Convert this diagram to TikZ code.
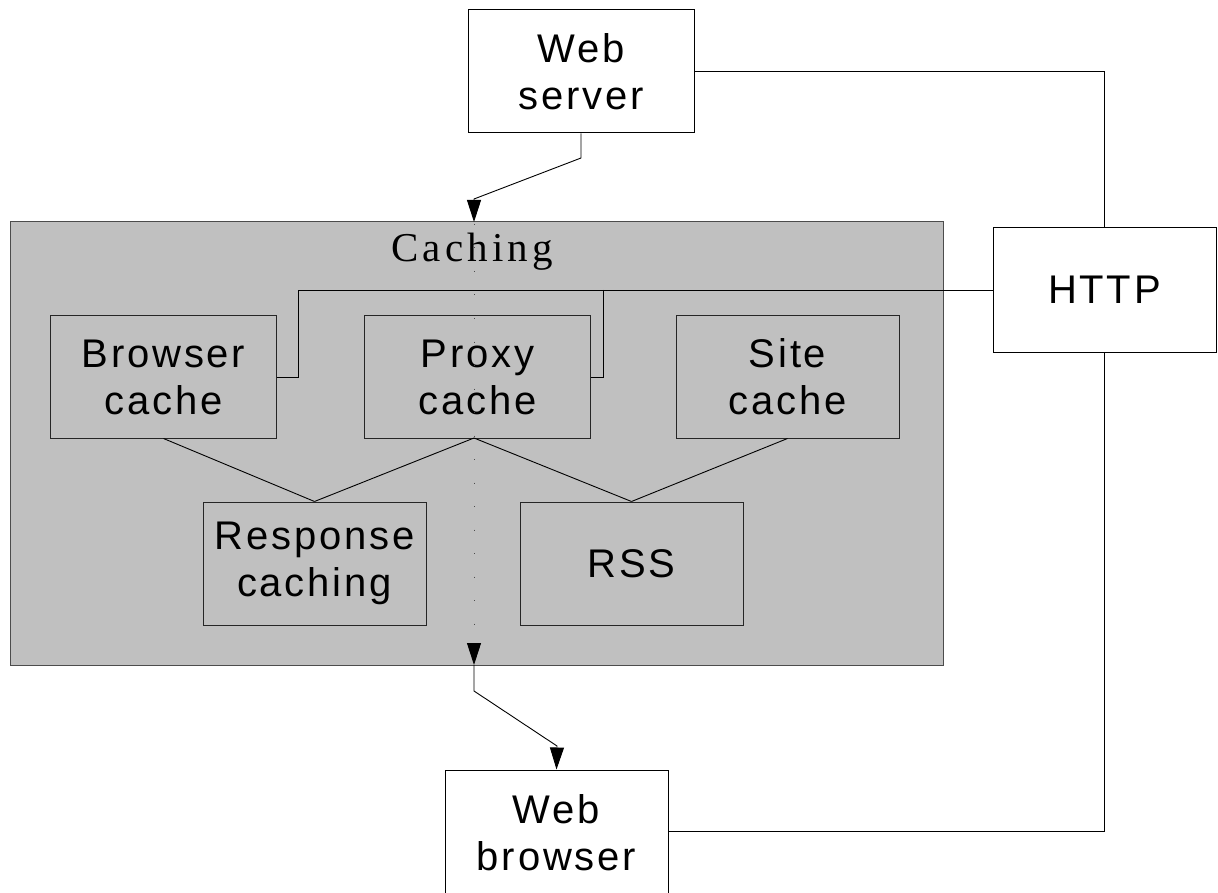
\documentclass[tikz,border=0pt]{standalone}
\usepackage{fontspec}
\usetikzlibrary{arrows.meta}
\newfontfamily\boxfont{Liberation Sans}[LetterSpace=7]
\newfontfamily\titlefont{Liberation Serif}[LetterSpace=10]
\definecolor{panel}{HTML}{C0C0C0}
\tikzset{
  wbox/.style={draw=black, line width=1pt, fill=white, align=center,
    font=\boxfont\fontsize{40}{47}\selectfont, inner sep=0pt},
  gbox/.style={draw=black!85, line width=1pt, fill=panel, align=center,
    font=\boxfont\fontsize{40}{47}\selectfont, inner sep=0pt,
    minimum width=226pt, minimum height=122pt},
  conn/.style={line width=0.9pt, black},
  arr/.style={conn, -{Triangle[length=22pt, width=14pt]}},
}
\begin{document}
\begin{tikzpicture}[x=1pt, y=-1pt]
  \useasboundingbox (0,0) rectangle (1218,893);
  \clip (0,0) rectangle (1218,893);
  \fill[white] (0,0) rectangle (1218,893);

  % caching panel
  \node[draw=black!70, line width=1pt, fill=panel, minimum width=933pt,
        minimum height=443pt, inner sep=0pt] (caching) at (476.5,443.5) {};
  \node[font=\titlefont\fontsize{41}{47}\selectfont, inner sep=0pt, anchor=base]
        (title) at (472,262) {Caching};

  % outer boxes
  \node[wbox, minimum width=226pt, minimum height=123pt] (ws) at (581,71.5) {Web\\server};
  \node[wbox, minimum width=223pt, minimum height=124pt] (http) at (1104.5,290) {HTTP};
  \node[wbox, minimum width=223pt, minimum height=126pt] (wb) at (556.5,833) {Web\\browser};

  % inner boxes
  \node[gbox] (bc) at (163.5,377) {Browser\\cache};
  \node[gbox] (pc) at (477.5,377) {Proxy\\cache};
  \node[gbox, minimum width=223pt] (sc) at (787.5,377) {Site\\cache};
  \node[gbox, minimum width=223pt, minimum height=123pt] (rc) at (314.5,563.5) {Response\\caching};
  \node[gbox, minimum width=223pt, minimum height=123pt] (rss) at (631.5,563.5) {RSS};

  % entry and exit points of the panel
  \coordinate (cin) at (474,222);
  \coordinate (cout) at (474,665);

  % request flow
  \draw[arr] (ws.south) -- (581,158) -- (474,199) -- (cin);
  \draw[line width=0.8pt, black!70, dash pattern=on 1pt off 22.5pt, dash phase=-2pt]
       (cin) -- (474,645);
  \draw[arr] (474,645) -- (cout);
  \draw[arr] (cout) -- (474,691) -- (557,746) -- (wb.north);

  % hierarchy inside the panel
  \draw[conn] (bc.south) -- (rc.north);
  \draw[conn] (474,438) -- (rc.north);
  \draw[conn] (474,438) -- (rss.north);
  \draw[conn] (sc.south) -- (rss.north);

  % HTTP links
  \draw[conn] (http.north) |- (ws.east);
  \draw[conn] (http.south) |- (wb.east |- 0,831);
  \draw[conn] (http.west) -- (298,290) -- (298,377) -- (bc.east);
  \draw[conn] (603,290) -- (603,377) -- (pc.east);
\end{tikzpicture}
\end{document}
